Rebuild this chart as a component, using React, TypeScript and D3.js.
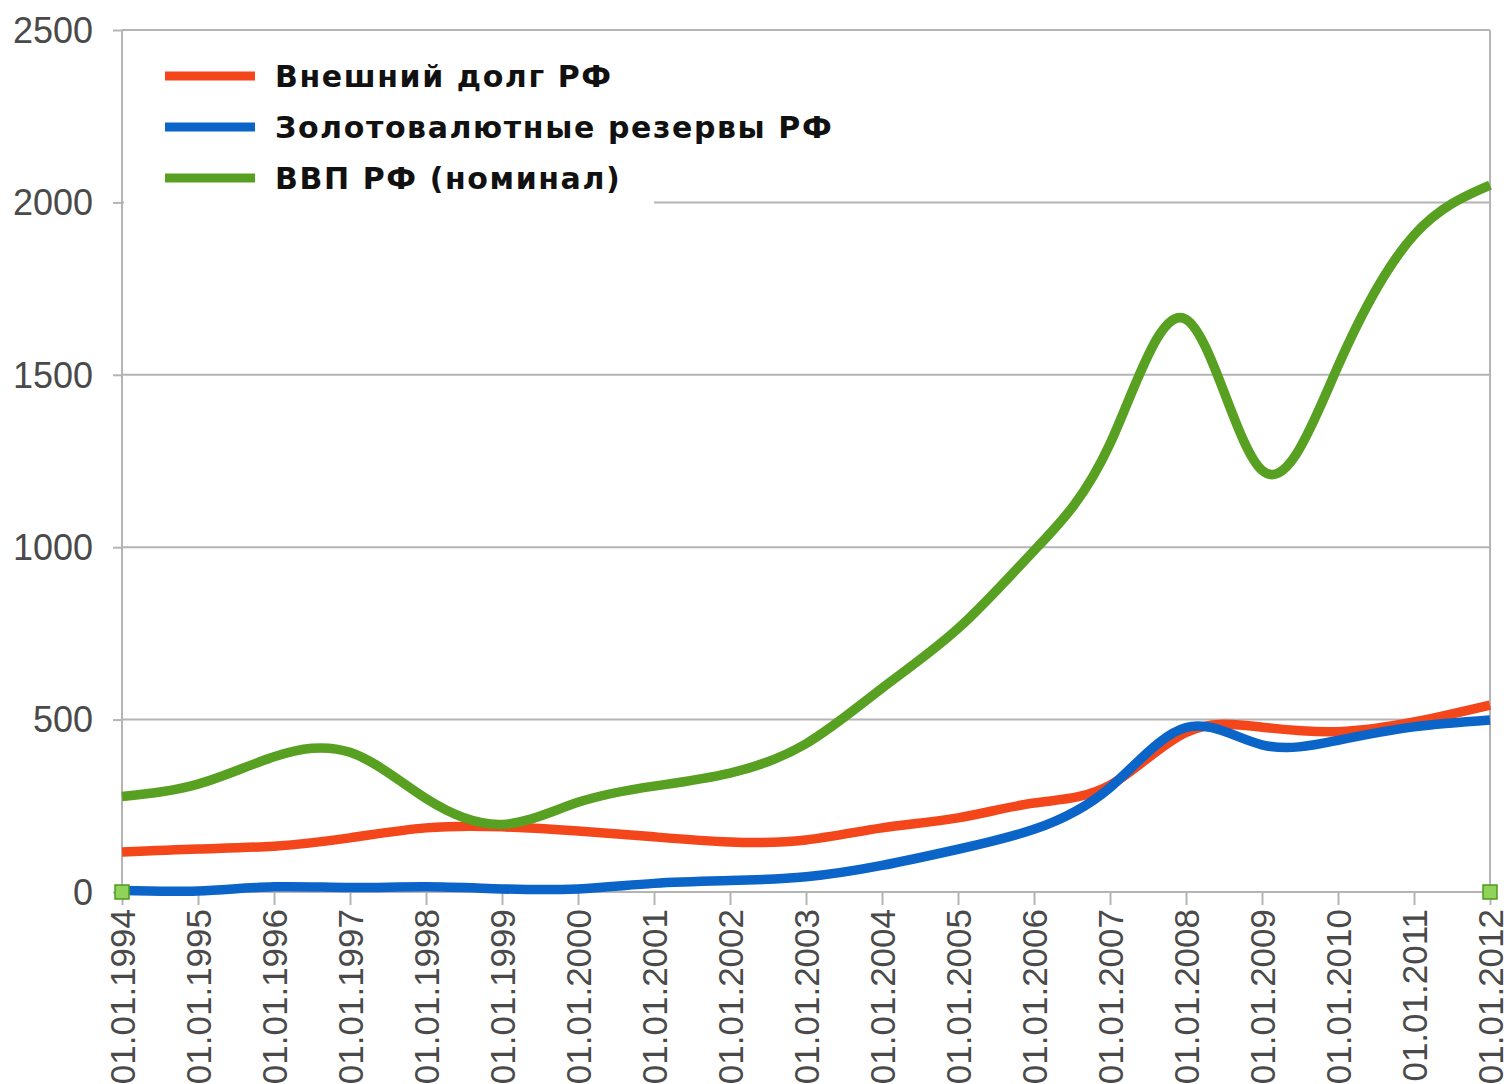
// Russian external debt vs reserves vs nominal GDP, 1994–2012 (bn USD).
// Smooth natural-spline lines over yearly points, LibreOffice-style frame.
import { useEffect, useRef } from "react";
import * as d3 from "d3";

const YEARS = [
  1994, 1995, 1996, 1997, 1998, 1999, 2000, 2001, 2002, 2003, 2004, 2005,
  2006, 2007, 2008, 2009, 2010, 2011, 2012,
];
const X_LABELS = YEARS.map((y) => `01.01.${y}`);

const DEBT = [116, 125, 133, 157, 186, 189, 177, 160, 145, 151, 186, 215, 258, 310, 463, 478, 465, 493, 542];
const RESERVES = [4, 3, 15, 13, 15, 9, 9, 25, 33, 44, 77, 124, 182, 303, 477, 427, 440, 479, 499];
const GDP = [277, 313, 392, 405, 271, 196, 260, 307, 345, 430, 591, 764, 990, 1300, 1661, 1223, 1525, 1905, 2050];

const Y_TICKS = [0, 500, 1000, 1500, 2000, 2500];

const SERIES = [
  { name: "Внешний долг РФ", values: DEBT, color: "#f4461b" },
  { name: "Золотовалютные резервы РФ", values: RESERVES, color: "#0b64c8" },
  { name: "ВВП РФ (номинал)", values: GDP, color: "#58a022" },
];

const W = 1510;
const H = 1084;

export default function App() {
  const ref = useRef<SVGSVGElement>(null);

  useEffect(() => {
    const svgEl = ref.current;
    if (!svgEl) return;
    const svg = d3.select(svgEl);
    svg.selectAll("*").remove();

    const left = 122;
    const right = 1490;
    const top = 30;
    const bottom = 892;

    const x = d3.scaleLinear().domain([1994, 2012]).range([left, right]);
    const y = d3.scaleLinear().domain([0, 2500]).range([bottom, top]);

    const grid = "#b4b4b4";
    const font = "'Liberation Sans', Arial, sans-serif";

    // horizontal gridlines
    svg
      .append("g")
      .selectAll("line")
      .data(Y_TICKS)
      .join("line")
      .attr("x1", left)
      .attr("x2", right)
      .attr("y1", (d) => y(d))
      .attr("y2", (d) => y(d))
      .attr("stroke", grid)
      .attr("stroke-width", 2);

    // frame verticals
    svg
      .append("g")
      .selectAll("line")
      .data([left, right])
      .join("line")
      .attr("x1", (d) => d)
      .attr("x2", (d) => d)
      .attr("y1", top)
      .attr("y2", bottom)
      .attr("stroke", grid)
      .attr("stroke-width", 2);

    // y axis ticks + labels
    const ya = svg
      .append("g")
      .attr("transform", `translate(${left},0)`)
      .call(d3.axisLeft(y).tickValues(Y_TICKS).tickSize(9).tickPadding(20).tickFormat(d3.format("d")));
    ya.select(".domain").remove();
    ya.selectAll(".tick line").attr("stroke", grid).attr("stroke-width", 2);
    ya.selectAll("text")
      .attr("fill", "#4a4a4a")
      .attr("font-family", font)
      .attr("font-size", 36)
      .attr("dy", "0.34em");

    // x axis ticks + rotated labels
    const xa = svg
      .append("g")
      .attr("transform", `translate(0,${bottom})`)
      .call(
        d3
          .axisBottom(x)
          .tickValues(YEARS)
          .tickSize(13)
          .tickFormat((_, i) => X_LABELS[i]),
      );
    xa.select(".domain").remove();
    xa.selectAll(".tick line").attr("stroke", grid).attr("stroke-width", 2);
    xa.selectAll("text")
      .attr("fill", "#4a4a4a")
      .attr("font-family", font)
      .attr("font-size", 35)
      .attr("transform", "rotate(-90)")
      .attr("text-anchor", "end")
      .attr("x", -17)
      .attr("y", 0)
      .attr("dy", "0.35em");

    // legend background hides the 2000 gridline
    svg
      .append("rect")
      .attr("x", left + 2)
      .attr("y", 45)
      .attr("width", 530)
      .attr("height", 165)
      .attr("fill", "#fff");

    // lines
    const line = d3
      .line<number>()
      .x((_, i) => x(YEARS[i]))
      .y((d) => y(d))
      .curve(d3.curveNatural);

    svg
      .append("g")
      .selectAll("path")
      .data(SERIES)
      .join("path")
      .attr("d", (s) => line(s.values))
      .attr("fill", "none")
      .attr("stroke", (s) => s.color)
      .attr("stroke-width", 9.5)
      .attr("stroke-linejoin", "round");

    // selection handles at the axis ends
    svg
      .append("g")
      .selectAll("rect")
      .data([1994, 2012])
      .join("rect")
      .attr("x", (d) => x(d) - 7)
      .attr("y", bottom - 7)
      .attr("width", 14)
      .attr("height", 14)
      .attr("fill", "#8fd35a")
      .attr("stroke", "#4d9a1e")
      .attr("stroke-width", 1.5);

    // legend
    const leg = svg
      .append("g")
      .selectAll("g")
      .data(SERIES)
      .join("g")
      .attr("transform", (_, i) => `translate(165,${76 + i * 51})`);
    leg
      .append("line")
      .attr("x1", 0)
      .attr("x2", 90)
      .attr("stroke", (s) => s.color)
      .attr("stroke-width", 9);
    leg
      .append("text")
      .attr("x", 110)
      .attr("dy", "0.36em")
      .attr("font-family", "'DejaVu Sans', Verdana, sans-serif")
      .attr("font-weight", "bold")
      .attr("font-size", 30)
      .attr("letter-spacing", 1.6)
      .attr("fill", "#111")
      .text((s) => s.name);
  }, []);

  return (
    <div style={{ position: "absolute", left: 0, top: 0 }}>
      <svg ref={ref} width={W} height={H} viewBox={`0 0 ${W} ${H}`} style={{ display: "block", background: "#fff" }} />
    </div>
  );
}
